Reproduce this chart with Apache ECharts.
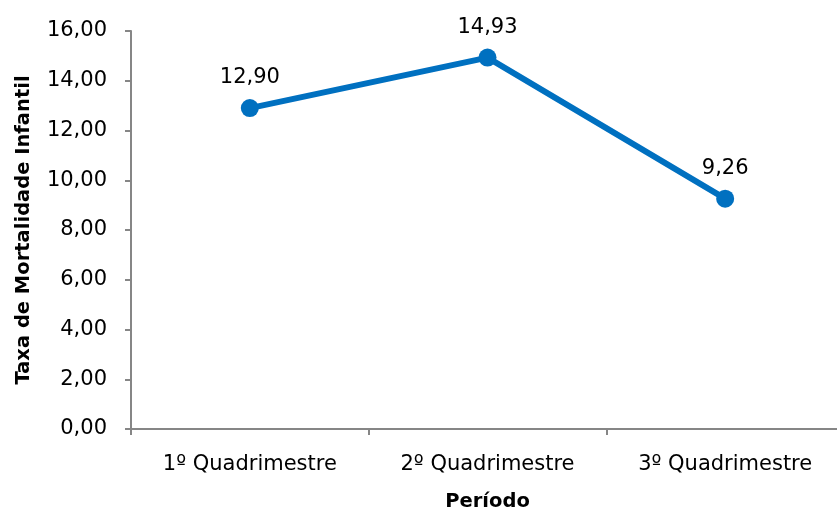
<!DOCTYPE html>
<html>
<head>
<meta charset="utf-8">
<script src="https://cdn.jsdelivr.net/npm/echarts@6/dist/echarts.min.js"></script>
<style>
  html, body { margin: 0; padding: 0; background: #fff; }
  #chart { width: 837px; height: 516px; }
</style>
</head>
<body>
<div id="chart"></div>
<script>
const categories = ['1º Quadrimestre', '2º Quadrimestre', '3º Quadrimestre']
const taxaValues = [12.90, 14.93, 9.26]

const fmt = v => v.toFixed(2).replace('.', ',')
const font = '"DejaVu Sans", sans-serif'

const chart = echarts.init(document.getElementById('chart'))

chart.setOption({
  animation: false,
  grid: {
    left: 131,
    right: -7,
    top: 31,
    bottom: 87,
    outerBoundsMode: 'none'
  },
  xAxis: {
    type: 'category',
    data: categories,
    name: 'Período',
    nameLocation: 'middle',
    nameGap: 73,
    nameTextStyle: { fontFamily: font, fontWeight: 'bold', fontSize: 19.5, color: '#000', verticalAlign: 'middle' },
    axisLine: { lineStyle: { color: '#868686', width: 2 } },
    axisTick: { show: true, length: 6, lineStyle: { color: '#868686', width: 2 } },
    axisLabel: { fontFamily: font, fontSize: 21, color: '#000', margin: 25 }
  },
  yAxis: {
    type: 'value',
    min: 0,
    max: 16,
    interval: 2,
    name: 'Taxa de Mortalidade Infantil',
    nameLocation: 'middle',
    nameGap: 107,
    nameTextStyle: { fontFamily: font, fontWeight: 'bold', fontSize: 19.5, color: '#000', verticalAlign: 'middle' },
    axisLine: { show: true, lineStyle: { color: '#868686', width: 2 } },
    axisTick: { show: true, length: 6, lineStyle: { color: '#868686', width: 2 } },
    axisLabel: { fontFamily: font, fontSize: 21, color: '#000', margin: 24, formatter: v => fmt(v) },
    splitLine: { show: false }
  },
  series: [
    {
      type: 'line',
      data: taxaValues,
      symbol: 'circle',
      symbolSize: 18,
      lineStyle: { color: '#0070C0', width: 6 },
      itemStyle: { color: '#0070C0' },
      label: {
        show: true,
        position: 'top',
        distance: 11,
        fontFamily: font,
        fontSize: 21,
        color: '#000',
        formatter: p => fmt(p.value)
      }
    }
  ]
})
</script>
</body>
</html>
